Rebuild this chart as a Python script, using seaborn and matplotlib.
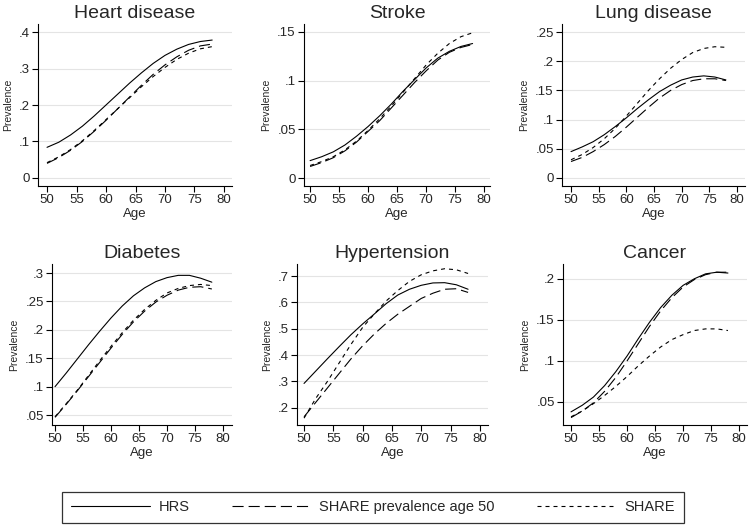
import numpy as np
import pandas as pd
import matplotlib
matplotlib.use("Agg")
import matplotlib.pyplot as plt
from matplotlib.lines import Line2D
from matplotlib.ticker import FuncFormatter
import seaborn as sns

ages = [50, 52, 54, 56, 58, 60, 62, 64, 66, 68, 70, 72, 74, 76, 78]
series_names = ["HRS", "SHARE prevalence age 50", "SHARE"]
titles = ["Heart disease", "Stroke", "Lung disease", "Diabetes", "Hypertension", "Cancer"]

heart_hrs = [.084, .098, .118, .142, .17, .2, .23, .26, .288, .314, .336, .353, .366, .374, .378]
heart_share50 = [.04, .056, .076, .10, .128, .158, .19, .222, .254, .284, .31, .332, .35, .362, .367]
heart_share = [.042, .058, .078, .102, .13, .16, .19, .22, .25, .278, .303, .325, .342, .354, .36]

stroke_hrs = [.018, .022, .027, .034, .043, .053, .064, .076, .089, .101, .113, .123, .13, .135, .138]
stroke_share50 = [.012, .016, .021, .028, .037, .048, .059, .072, .085, .098, .11, .121, .129, .134, .137]
stroke_share = [.013, .017, .022, .029, .038, .049, .061, .074, .088, .102, .116, .128, .138, .145, .149]

lung_hrs = [.045, .053, .062, .074, .088, .103, .119, .134, .148, .159, .168, .173, .175, .173, .168]
lung_share50 = [.028, .035, .045, .057, .071, .087, .104, .121, .137, .15, .16, .167, .17, .17, .167]
lung_share = [.031, .04, .052, .067, .085, .106, .128, .15, .17, .188, .203, .215, .222, .225, .224]

diab_hrs = [.1, .124, .149, .174, .198, .221, .242, .26, .274, .285, .292, .296, .296, .291, .284]
diab_share50 = [.046, .069, .093, .118, .143, .168, .192, .214, .233, .249, .261, .27, .275, .276, .272]
diab_share = [.047, .07, .094, .12, .146, .171, .195, .217, .236, .252, .265, .273, .278, .28, .278]

hyp_hrs = [.292, .339, .386, .432, .477, .518, .556, .595, .628, .65, .665, .674, .675, .667, .65]
hyp_share50 = [.165, .22, .275, .33, .385, .435, .48, .52, .555, .585, .615, .635, .65, .652, .638]
hyp_share = [.16, .235, .3, .37, .44, .505, .556, .605, .645, .68, .705, .72, .728, .724, .71]

canc_hrs = [.038, .046, .056, .07, .087, .106, .127, .147, .165, .18, .192, .2, .206, .208, .207]
canc_share50 = [.031, .039, .049, .063, .08, .1, .121, .142, .161, .177, .19, .199, .205, .208, .208]
canc_share = [.032, .039, .048, .058, .069, .081, .094, .106, .117, .126, .132, .137, .139, .139, .137]

panel_values = [
    (heart_hrs, heart_share50, heart_share),
    (stroke_hrs, stroke_share50, stroke_share),
    (lung_hrs, lung_share50, lung_share),
    (diab_hrs, diab_share50, diab_share),
    (hyp_hrs, hyp_share50, hyp_share),
    (canc_hrs, canc_share50, canc_share),
]
yticks = [
    [0, .1, .2, .3, .4],
    [0, .05, .1, .15],
    [0, .05, .1, .15, .2, .25],
    [.05, .1, .15, .2, .25, .3],
    [.2, .3, .4, .5, .6, .7],
    [.05, .1, .15, .2],
]
xticks = [50, 55, 60, 65, 70, 75, 80]

# layout in pixels: (spine x, right x, top y, bottom y), limits
W, H = 750, 527
boxes = [(38, 232, 24, 186), (304, 490, 24, 186), (562, 745, 24, 186),
         (52, 232, 264, 425), (297, 488, 264, 425), (563, 747, 264, 425)]
xlims = [(48.47, 81.36), (48.95, 81.0), (48.37, 81.45),
         (49.46, 81.6), (48.8, 81.4), (48.57, 81.4)]
ylims = [(-0.022, 0.422), (-0.008, 0.158), (-0.014, 0.264),
         (0.0325, 0.316), (0.134, 0.746), (0.022, 0.218)]

sns.set_style("white")
plt.rcParams["font.family"] = ["Liberation Sans", "DejaVu Sans"]

lw = 0.8
dash_map = {"HRS": "", "SHARE prevalence age 50": (10, 4.5), "SHARE": (3.6, 3.6)}


def fmt(v, pos):
    s = f"{v:g}"
    return s[1:] if s.startswith("0.") else s


fig = plt.figure(figsize=(W / 100, H / 100), dpi=100)
for i in range(6):
    x0, x1, y0, y1 = boxes[i]
    ax = fig.add_axes([x0 / W, 1 - y1 / H, (x1 - x0) / W, (y1 - y0) / H])
    rows = []
    for name, vals in zip(series_names, panel_values[i]):
        for a, v in zip(ages, vals):
            rows.append({"age": a, "prev": v, "series": name})
    df = pd.DataFrame(rows)
    sns.lineplot(data=df, x="age", y="prev", style="series", dashes=dash_map,
                 color="black", linewidth=lw, legend=False, ax=ax)
    ax.set_xlim(*xlims[i])
    ax.set_ylim(*ylims[i])
    ax.set_xticks(xticks)
    ax.set_yticks(yticks[i])
    ax.yaxis.set_major_formatter(FuncFormatter(fmt))
    ax.grid(axis="y", color="#e4e4e4", linewidth=0.8)
    ax.set_axisbelow(True)
    for s in ["top", "right"]:
        ax.spines[s].set_visible(False)
    for s in ["left", "bottom"]:
        ax.spines[s].set_color("black")
        ax.spines[s].set_linewidth(0.8)
    ax.tick_params(axis="both", direction="out", length=4, width=0.8,
                   color="black", labelsize=9.5, pad=2, left=True, bottom=True)
    ax.set_title(titles[i], fontsize=14, pad=4)
    ax.set_xlabel("Age", fontsize=9.5, labelpad=1)
    ax.set_ylabel("Prevalence", fontsize=7.5, labelpad=4)

handles = [Line2D([], [], color="black", linewidth=lw),
           Line2D([], [], color="black", linewidth=lw, dashes=dash_map["SHARE prevalence age 50"]),
           Line2D([], [], color="black", linewidth=lw, dashes=dash_map["SHARE"])]
leg = fig.legend(handles, series_names, loc="lower center",
                 bbox_to_anchor=(373 / W, 4 / H), ncol=3, frameon=True,
                 fancybox=False, edgecolor="black", fontsize=10.5,
                 handlelength=5.4, handletextpad=0.6, columnspacing=2.9,
                 borderaxespad=0, borderpad=0.6)
leg.get_frame().set_linewidth(0.9)

fig.savefig("out.png", dpi=100)
plt.close(fig)
